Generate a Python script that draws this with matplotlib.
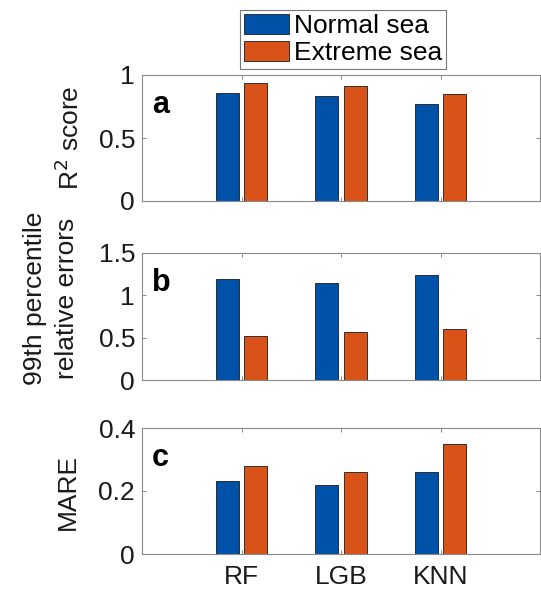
import numpy as np
import matplotlib
matplotlib.use("Agg")
import matplotlib.pyplot as plt

plt.rcParams["font.family"] = ["Liberation Sans", "DejaVu Sans"]

models = ["RF", "LGB", "KNN"]
series = ["Normal sea", "Extreme sea"]

r2_normal = [0.855, 0.836, 0.772]
r2_extreme = [0.934, 0.915, 0.852]
p99_normal = [1.19, 1.15, 1.236]
p99_extreme = [0.52, 0.57, 0.60]
mare_normal = [0.231, 0.220, 0.260]
mare_extreme = [0.279, 0.260, 0.350]

ylabels = ["R$^2$ score", "99th percentile\nrelative errors", "MARE"]
letters = ["a", "b", "c"]
yticks = [[0, 0.5, 1], [0, 0.5, 1, 1.5], [0, 0.2, 0.4]]
ytick_labels = [["0", "0.5", "1"], ["0", "0.5", "1", "1.5"], ["0", "0.2", "0.4"]]

BLUE = "#0052A8"
ORANGE = "#D95319"
W, H = 541, 592
FS = 19

fig = plt.figure(figsize=(W / 100, H / 100), dpi=100)

# pixel boxes (left, top, right, bottom)
boxes = [(142, 75, 540, 201), (142, 253, 540, 380), (142, 428, 540, 554)]
data = [(r2_normal, r2_extreme), (p99_normal, p99_extreme), (mare_normal, mare_extreme)]
# y-label centres in pixels (x, y)
label_pos = [(70, 138), (51, 298), (68, 492)]

x = np.arange(1, len(models) + 1)
w = 0.23
off = 0.145
for i, ((l, t, r, b), (yn, ye)) in enumerate(zip(boxes, data)):
    ax = fig.add_axes([l / W, 1 - b / H, (r - l) / W, (b - t) / H])
    ax.bar(x - off, yn, w, color=BLUE, edgecolor="#1a1a1a", linewidth=0.6, label=series[0])
    ax.bar(x + off, ye, w, color=ORANGE, edgecolor="#1a1a1a", linewidth=0.6, label=series[1])
    ax.set_xlim(0, 4)
    ax.set_ylim(yticks[i][0], yticks[i][-1])
    ax.set_yticks(yticks[i])
    ax.set_yticklabels(ytick_labels[i])
    ax.set_xticks(x)
    if i == 2:
        ax.set_xticklabels(models)
    else:
        ax.set_xticklabels([])
    ax.tick_params(direction="in", length=3, width=0.6, colors="#777777",
                   labelcolor="#1a1a1a", labelsize=FS, top=True, right=True, pad=5)
    ax.tick_params(axis="x", pad=8)
    for s in ax.spines.values():
        s.set_color("#8a8a8a")
        s.set_linewidth(0.8)
    lx, ly = label_pos[i]
    fig.text(lx / W, 1 - ly / H, ylabels[i], rotation=90, fontsize=FS,
             ha="center", va="center", linespacing=1.45, color="#1a1a1a")
    ax.text(0.025, 0.70, letters[i], transform=ax.transAxes, fontsize=22,
            fontweight="bold", ha="left", va="baseline")
    if i == 0:
        handles, labs = ax.get_legend_handles_labels()

leg = fig.legend(handles, labs, loc="upper left", bbox_to_anchor=(240 / W, 1 - 10 / H),
                 fontsize=FS, frameon=True, fancybox=False, edgecolor="#555555",
                 handlelength=1.7, handleheight=0.8, handletextpad=0.2,
                 borderpad=0.15, labelspacing=0.1, borderaxespad=0)
leg.get_frame().set_linewidth(0.8)

fig.savefig("out.png", dpi=100)
